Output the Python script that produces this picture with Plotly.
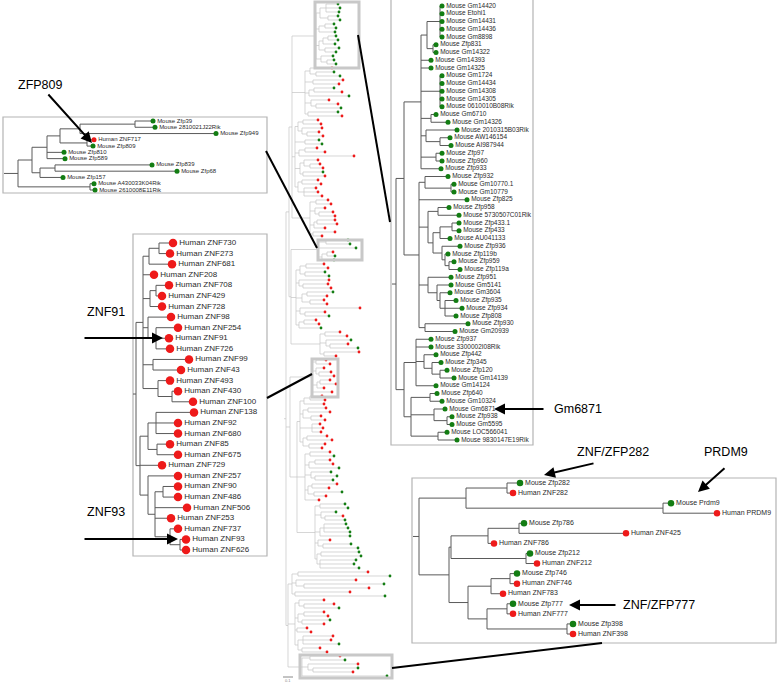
import plotly.graph_objects as go

FONT = "Liberation Sans, Arial, sans-serif"
RED = "#ee1a1a"
GREEN = "#137d13"

# ---------------- data ----------------
# Top-left inset (Zfp809 clade)
tl_labels = ["Mouse Zfp39", "Mouse 2810021J22Rik", "Mouse Zfp949", "Human ZNF717", "Mouse Zfp809",
             "Mouse Zfp810", "Mouse Zfp589", "Mouse Zfp839", "Mouse Zfp68", "Mouse Zfp157",
             "Mouse A430033K04Rik", "Mouse 2610008E11Rik"]
tl_newick = "((((((0:18,1:20):55,2:136):20,(3:7,4:6):27):13,5:17,6:18):15,((7:97,8:122):15,9:23):8):14,(10:4,11:5):72)"

# Left inset (human ZNF91 / ZNF93 clade)
hu_labels = ["Human ZNF730", "Human ZNF273", "Human ZNF681", "Human ZNF208", "Human ZNF708",
             "Human ZNF429", "Human ZNF728", "Human ZNF98", "Human ZNF254", "Human ZNF91",
             "Human ZNF726", "Human ZNF99", "Human ZNF43", "Human ZNF493", "Human ZNF430",
             "Human ZNF100", "Human ZNF138", "Human ZNF92", "Human ZNF680", "Human ZNF85",
             "Human ZNF675", "Human ZNF729", "Human ZNF257", "Human ZNF90", "Human ZNF486",
             "Human ZNF506", "Human ZNF253", "Human ZNF737", "Human ZNF93", "Human ZNF626"]
hu_h1 = ["((0:14,1:11):10,2:23):6", "3:11", "((4:13,5:6):6,6:12):7", "(7:23,(8:22,9:13,10:14):8):5",
         "(11:36,12:28):10", "(13:12,(14:6,15:21):14):15"]
hu_h2 = ["((16:38,17:22,18:22):8,(19:13,20:21):9):8", "21:22",
         "(22:30,((23:15,24:15):8,25:32,26:16,(27:8,(28:6,29:6):10):15):7):8"]
hu_newick = "((" + ",".join(hu_h1) + "):7,(" + ",".join(hu_h2) + "):4)"

# Right inset (mouse Gm6871 clade)
mo_labels = ["Mouse Gm14420", "Mouse Etohi1", "Mouse Gm14431", "Mouse Gm14436", "Mouse Gm8898",
             "Mouse Zfp831", "Mouse Gm14322", "Mouse Gm14393", "Mouse Gm14325", "Mouse Gm1724",
             "Mouse Gm14434", "Mouse Gm14308", "Mouse Gm14305", "Mouse 0610010B08Rik", "Mouse Gm6710",
             "Mouse Gm14326", "Mouse 2010315B03Rik", "Mouse AW146154", "Mouse AI987944", "Mouse Zfp97",
             "Mouse Zfp960", "Mouse Zfp933", "Mouse Zfp932", "Mouse Gm10770.1", "Mouse Gm10779",
             "Mouse Zfp825", "Mouse Zfp958", "Mouse 5730507C01Rik", "Mouse Zfp433.1", "Mouse Zfp433",
             "Mouse AU041133", "Mouse Zfp936", "Mouse Zfp119b", "Mouse Zfp959", "Mouse Zfp119a",
             "Mouse Zfp951", "Mouse Gm5141", "Mouse Gm3604", "Mouse Zfp935", "Mouse Zfp934",
             "Mouse Zfp808", "Mouse Zfp930", "Mouse Gm20939", "Mouse Zfp937", "Mouse 3300002I08Rik",
             "Mouse Zfp442", "Mouse Zfp345", "Mouse Zfp120", "Mouse Gm14139", "Mouse Gm14124",
             "Mouse Zfp640", "Mouse Gm10324", "Mouse Gm6871", "Mouse Zfp938", "Mouse Gm5595",
             "Mouse LOC566041", "Mouse 9830147E19Rik"]
mo_t1 = ["((0:2,1:2,2:2,3:2,4:2):13,(5:3,6:3):6):6", "7:10", "8:10", "(9:2,10:2,11:2,12:2,13:2):19",
         "(14:5,15:17):10", "(16:31,(17:10,18:11):14):5", "(19:6,20:6):15", "21:20"]
mo_t2 = ["(22:23,(23:3,24:3):26):6", "25:48",
         "((26:11,27:21):10,(((28:7,29:7):12,30:10):7,(31:18,(32:3,(33:5,34:11):4):3):9):5):9",
         "(35:23,(36:14,(37:10,(38:11,39:17,40:11):5):3):9):9", "(41:43,42:30):6"]
mo_bt = ["(43:15,44:15,(45:12,(46:9,(47:7,48:14):8):8):8,49:20):12",
         "((50:7,51:12):19,(52:11,(53:5,54:5):13):23,(55:9,56:19):27):7"]
mo_newick = ("(((" + ",".join(mo_t1) + "):17,(" + ",".join(mo_t2) + "):15):8,(" + ",".join(mo_bt) + "):8)")

# Bottom-right inset (PRDM9 clade)
br_labels = ["Mouse Zfp282", "Human ZNF282", "Mouse Prdm9", "Human PRDM9", "Mouse Zfp786",
             "Human ZNF425", "Human ZNF786", "Mouse Zfp212", "Human ZNF212", "Mouse Zfp746",
             "Human ZNF746", "Human ZNF783", "Mouse Zfp777", "Human ZNF777", "Mouse Zfp398",
             "Human ZNF398"]
br_newick = ("(((0:13,1:6):41,(2:8,3:54):197):47,((((4:5,5:107):31,6:6):37,(7:4,8:11):75):2,"
             "(((9:7,10:7):19,11:12):23,((12:6,13:6):20,(14:6,15:6):80):19):19):30)")

# Central overview tree (h = human leaf, m = mouse leaf)
c_regions = [
    "(((m:12,m:14,m:13):6,(m:10,m:12):8):4,((m:9,m:11):6,m:16):3,(((m:8,m:10):5,m:12):4,(m:14,m:11):6):3,(m:12,(m:7,m:9):6):5)",
    "((h:22,(m:18,m:24):6):5,(h:30,h:26):8,((m:20,h:28):5,m:40):4,(h:18,(h:22,m:25):5):6,(m:30,h:34):3)",
    "(((h:15,h:18):5,(h:20,(h:12,h:16):5):4):3,(m:14,m:17):10,((h:12,h:20):6,h:55):4,((h:14,(h:10,h:13):6):4,(m:20,h:22):3):5,((h:16,h:19):4,(h:12,h:14,h:18):6):3)",
    "((h:12,h:15):6,(h:10,(h:14,h:16):4):5,((h:18,h:20):3,h:11):4,(h:22,h:9):3)",
    "((m:22,m:24):8,m:38,((h:6,m:8):5,m:12):4)",
    "(((h:18,h:22):6,(m:20,m:24):5):4,(h:30,(h:25,h:28):4):3,((m:26,h:20):5,(h:14,h:17):8):6,(h:60,(h:20,m:24):5):4,((h:12,h:15):5,m:22):3)",
    "((h:15,h:22):5,(m:25,(h:18,m:28):4):6,(h:35,h:12):4)",
    "((h:10,h:14):4,(h:8,(h:12,h:15):3):4,((h:10,h:16):3,h:7):5,h:20)",
    "(((h:12,h:15):6,h:20):4,((h:18,h:22):5,(h:10,h:14):8):3,(h:8,h:11,h:9):12,((h:20,h:25):4,(h:16,h:13):6):3)",
    "((h:20,m:24):5,((h:15,h:18):6,m:30):4,(m:20,(m:22,m:18):4):6,((h:25,h:17):4,(m:28,h:12):6):3,h:14)",
    "((m:25,m:28):5,(m:15,(h:18,m:20):4):6,((m:22,m:24,m:26):4,m:30):5,(h:12,(m:28,m:35):5):3,((m:38,m:40):4,(m:36,m:34,m:39):3):2)",
    "((h:70,m:92):6,(h:60,(m:80,h:65):8):4,(h:55,m:90):3)",
    "((h:25,(h:30,m:35):5):4,((h:20,h:24):6,(m:28,h:22):4):3,(h:10,h:14):2,((h:30,h:28,m:36):5,(h:18,h:25):4):3)",
    "((h:30,m:35):8,(h:50,(m:45,h:40):5):6,m:85)",
]
c_stems = [24, 13, 3, 18, 27, 5, 29, 22, 3, 8, 18, 4, 7, 14]
R = [f"{c_regions[i]}:{c_stems[i]}" for i in range(14)]
c_newick = (f"((({R[0]},{R[1]},{R[2]},{R[3]}):3,({R[4]},{R[5]},{R[6]}):2):3,"
            f"({R[7]},({R[8]},{R[9]},{R[10]}):7):4,({R[11]},{R[12]},{R[13]}):2)")


# ---------------- helpers ----------------
def parse_newick(s):
    s = s.replace(" ", "")
    pos = 0

    def node():
        nonlocal pos
        n = {"children": [], "name": "", "len": 0.0}
        if s[pos] == "(":
            pos += 1
            while True:
                n["children"].append(node())
                if s[pos] == ",":
                    pos += 1
                    continue
                pos += 1  # ')'
                break
        st = pos
        while pos < len(s) and s[pos] not in ":,()":
            pos += 1
        n["name"] = s[st:pos]
        if pos < len(s) and s[pos] == ":":
            pos += 1
            st = pos
            while pos < len(s) and s[pos] not in ",()":
                pos += 1
            n["len"] = float(s[st:pos])
        return n

    return node()


def build_tree(newick, x_root, y_first, y_last, stem=0.0):
    root = parse_newick(newick)
    leaves = []

    def count(n):
        if not n["children"]:
            leaves.append(n)
        for c in n["children"]:
            count(c)

    count(root)
    nl = len(leaves)
    step = (y_last - y_first) / (nl - 1)
    for i, lf in enumerate(leaves):
        lf["y"] = y_first + i * step

    def lay(n, x0):
        n["x"] = x0 + n["len"]
        if n["children"]:
            for c in n["children"]:
                lay(c, n["x"])
            n["y"] = (n["children"][0]["y"] + n["children"][-1]["y"]) / 2

    root["len"] = 0.0
    lay(root, x_root)
    xs, ys = [], []

    def segs(n):
        if n["children"]:
            ylo = n["children"][0]["y"]
            yhi = n["children"][-1]["y"]
            xs.extend([n["x"], n["x"], None])
            ys.extend([ylo, yhi, None])
            for c in n["children"]:
                xs.extend([n["x"], c["x"], None])
                ys.extend([c["y"], c["y"], None])
                segs(c)

    segs(root)
    if stem:
        xs.extend([root["x"] - stem, root["x"], None])
        ys.extend([root["y"], root["y"], None])
    return leaves, xs, ys


fig = go.Figure()


def add_inset(newick, labels, x_root, y_first, y_last, stem, dot, fsize, lcolor="#5a5a5a", lw=1.0):
    leaves, xs, ys = build_tree(newick, x_root, y_first, y_last, stem)
    fig.add_trace(go.Scatter(x=xs, y=ys, mode="lines", line=dict(color=lcolor, width=lw),
                             hoverinfo="skip"))
    for sp, col in (("Human", RED), ("Mouse", GREEN)):
        sel = [lf for lf in leaves if labels[int(lf["name"])].startswith(sp)]
        fig.add_trace(go.Scatter(
            x=[lf["x"] for lf in sel], y=[lf["y"] for lf in sel],
            mode="markers+text", text=[labels[int(lf["name"])] for lf in sel],
            textposition="middle right",
            textfont=dict(family=FONT, size=fsize, color="#2a2a2a"),
            marker=dict(color=col, size=dot, line=dict(width=0)), hoverinfo="skip"))


# central tree
c_leaves, cx, cy = build_tree(c_newick, 286, 4, 676, stem=2)
fig.add_trace(go.Scatter(x=cx, y=cy, mode="lines", line=dict(color="#c4c4c4", width=0.7),
                         hoverinfo="skip"))
for nm, col in (("h", RED), ("m", GREEN)):
    sel = [lf for lf in c_leaves if lf["name"] == nm]
    fig.add_trace(go.Scatter(x=[lf["x"] for lf in sel], y=[lf["y"] for lf in sel], mode="markers",
                             marker=dict(color=col, size=2.8, line=dict(width=0)), hoverinfo="skip"))

# insets
add_inset(tl_labels and tl_newick, tl_labels, 18, 121, 190, 14, 5, 6)
add_inset(hu_newick, hu_labels, 136, 243, 550, 3, 8.5, 8)
add_inset(mo_newick, mo_labels, 396, 6, 440, 4, 5, 6.5)
add_inset(br_newick, br_labels, 419, 483, 634, 6, 6.5, 7)

shapes = []
# inset frames
for (x0, y0, x1, y1) in [(3, 117, 267, 193), (133, 234, 267, 556), (391, -2, 533, 445), (412, 478, 776, 643)]:
    shapes.append(dict(type="rect", xref="x", yref="y", x0=x0, y0=y0, x1=x1, y1=y1,
                       line=dict(color="#b4b4b4", width=1.2), fillcolor="rgba(0,0,0,0)", layer="below"))
# highlight boxes on central tree
for (x0, y0, x1, y1) in [(315, 2, 359, 68), (318, 240, 362, 260), (312, 359, 338, 397), (300, 655, 392, 678)]:
    shapes.append(dict(type="rect", xref="x", yref="y", x0=x0, y0=y0, x1=x1, y1=y1,
                       line=dict(color="#c8c8c8", width=3), fillcolor="rgba(0,0,0,0)"))
# connector lines
for (x0, y0, x1, y1) in [(266, 151, 317, 248), (267, 398, 312, 374), (358, 35, 390, 222), (602, 643, 392, 668)]:
    shapes.append(dict(type="line", xref="x", yref="y", x0=x0, y0=y0, x1=x1, y1=y1,
                       line=dict(color="black", width=2)))
# scale bar
shapes.append(dict(type="line", xref="x", yref="y", x0=283, y0=677, x1=293, y1=677,
                   line=dict(color="#888888", width=1)))

annotations = []
for txt, x, y, anc in [("ZFP809", 40, 85, "center"), ("ZNF91", 106, 312, "center"), ("ZNF93", 106, 512, "center"),
                       ("Gm6871", 552, 409, "left"), ("ZNF/ZFP282", 613, 452, "center"),
                       ("PRDM9", 726, 452, "center"), ("ZNF/ZFP777", 621, 605, "left")]:
    annotations.append(dict(text=txt, x=x, y=y, xref="x", yref="y", showarrow=False, xanchor=anc,
                            yanchor="middle", font=dict(family=FONT, size=12.5, color="black")))
for (ax, ay, x, y) in [(47, 93, 92, 143), (83, 338, 163, 338), (83, 539, 178, 539), (545, 409, 494, 409),
                       (595, 463, 544, 475), (726, 467, 698, 492), (617, 605, 569, 605)]:
    annotations.append(dict(text="", x=x, y=y, ax=ax, ay=ay, xref="x", yref="y", axref="x", ayref="y",
                            showarrow=True, arrowhead=2, arrowsize=1.1, arrowwidth=2, arrowcolor="black"))
annotations.append(dict(text="0.1", x=288, y=680, xref="x", yref="y", showarrow=False,
                        font=dict(family=FONT, size=4, color="#888888")))

fig.update_layout(
    width=778, height=682, margin=dict(l=0, r=0, t=0, b=0),
    xaxis=dict(range=[0, 778], visible=False, fixedrange=True),
    yaxis=dict(range=[682, 0], visible=False, fixedrange=True),
    plot_bgcolor="white", paper_bgcolor="white", showlegend=False,
    shapes=shapes, annotations=annotations,
)
fig.write_html("out.html", config={"displayModeBar": False},
               post_script="document.body.style.margin='0';")
